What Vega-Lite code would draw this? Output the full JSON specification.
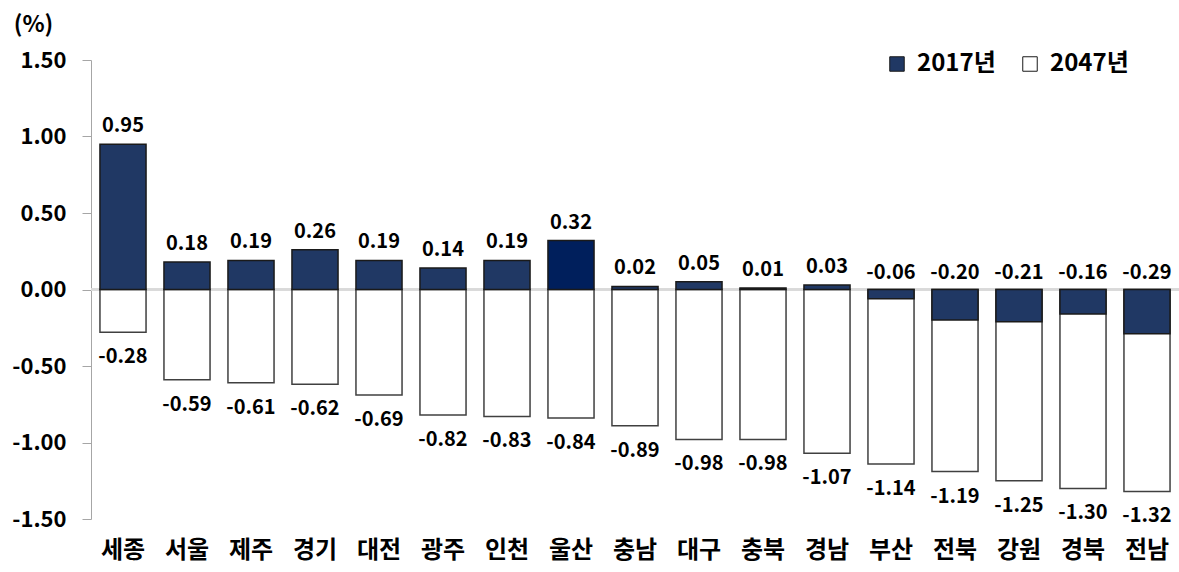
{
  "$schema": "https://vega.github.io/schema/vega-lite/v6.json",
  "width": 1088,
  "height": 459,
  "autosize": {"type": "none"},
  "padding": {"left": 91, "top": 60, "right": 0, "bottom": 53},
  "background": "white",
  "config": {
    "view": {"stroke": null},
    "font": "Noto Sans CJK KR"
  },
  "data": {
    "values": [
      {"region": "세종", "v2017": 0.95, "v2047": -0.28},
      {"region": "서울", "v2017": 0.18, "v2047": -0.59},
      {"region": "제주", "v2017": 0.19, "v2047": -0.61},
      {"region": "경기", "v2017": 0.26, "v2047": -0.62},
      {"region": "대전", "v2017": 0.19, "v2047": -0.69},
      {"region": "광주", "v2017": 0.14, "v2047": -0.82},
      {"region": "인천", "v2017": 0.19, "v2047": -0.83},
      {"region": "울산", "v2017": 0.32, "v2047": -0.84},
      {"region": "충남", "v2017": 0.02, "v2047": -0.89},
      {"region": "대구", "v2017": 0.05, "v2047": -0.98},
      {"region": "충북", "v2017": 0.01, "v2047": -0.98},
      {"region": "경남", "v2017": 0.03, "v2047": -1.07},
      {"region": "부산", "v2017": -0.06, "v2047": -1.14},
      {"region": "전북", "v2017": -0.20, "v2047": -1.19},
      {"region": "강원", "v2017": -0.21, "v2047": -1.25},
      {"region": "경북", "v2017": -0.16, "v2047": -1.30},
      {"region": "전남", "v2017": -0.29, "v2047": -1.32}
    ]
  },
  "encoding": {
    "x": {
      "field": "region",
      "type": "nominal",
      "sort": null,
      "scale": {"paddingInner": 0.28, "paddingOuter": 0.14},
      "axis": {
        "title": null,
        "orient": "bottom",
        "domain": false,
        "ticks": false,
        "labelAngle": 0,
        "labelFontSize": 24,
        "labelFontWeight": "bold",
        "labelColor": "#000000",
        "labelPadding": 19
      }
    }
  },
  "layer": [
    {
      "mark": {"type": "rule", "color": "#D9D9D9", "strokeWidth": 2},
      "encoding": {"y": {"datum": 0, "type": "quantitative"}, "x": null}
    },
    {
      "mark": {"type": "bar", "stroke": "#404040", "strokeWidth": 1.5},
      "encoding": {
        "y": {
          "field": "v2047",
          "type": "quantitative",
          "scale": {"domain": [-1.5, 1.5], "nice": false, "zero": true},
          "axis": {
            "values": [-1.5, -1, -0.5, 0, 0.5, 1, 1.5],
            "labelExpr": "replace(format(datum.value, '.2f'), '\u2212', '-')",
            "grid": false,
            "domainColor": "#A6A6A6",
            "tickColor": "#A6A6A6",
            "tickSize": 9,
            "labelPadding": 16,
            "labelFontSize": 22,
            "labelFontWeight": "bold",
            "labelColor": "#000000",
            "title": "(%)",
            "titleAngle": 0,
            "titleX": -58,
            "titleY": -36,
            "titleAlign": "center",
            "titleBaseline": "middle",
            "titleFontSize": 23,
            "titleFontWeight": "bold",
            "titleColor": "#000000"
          }
        },
        "color": {
          "datum": "2047년",
          "type": "nominal",
          "scale": {"domain": ["2017년", "2047년"], "range": ["#203864", "#FFFFFF"]},
          "legend": {
            "title": null,
            "orient": "none",
            "direction": "horizontal",
            "legendX": 794,
            "legendY": -8,
            "symbolType": "square",
            "symbolSize": 210,
            "symbolStrokeColor": "#000000",
            "symbolStrokeWidth": 1,
            "symbolOpacity": 1,
            "labelFontSize": 24,
            "labelFontWeight": "bold",
            "labelColor": "#000000",
            "labelOffset": 8,
            "columnPadding": 22
          }
        }
      }
    },
    {
      "mark": {"type": "bar", "stroke": "#1A1A1A", "strokeWidth": 1.5},
      "encoding": {
        "y": {"field": "v2017", "type": "quantitative"},
        "color": {
          "condition": {"test": "datum.region === '울산'", "value": "#001F5C"},
          "datum": "2017년",
          "type": "nominal"
        }
      }
    },
    {
      "transform": [{"filter": "datum.v2017 >= 0"}],
      "mark": {"type": "text", "baseline": "alphabetic", "dy": -12, "fontSize": 20, "fontWeight": "bold", "color": "#000000",
        "text": {"expr": "replace(format(datum.v2017, '.2f'), '\u2212', '-')"}},
      "encoding": {
        "y": {"field": "v2017", "type": "quantitative"}
      }
    },
    {
      "transform": [{"filter": "datum.v2017 < 0"}],
      "mark": {"type": "text", "baseline": "alphabetic", "dy": -11, "fontSize": 20, "fontWeight": "bold", "color": "#000000",
        "text": {"expr": "replace(format(datum.v2017, '.2f'), '\u2212', '-')"}},
      "encoding": {
        "y": {"datum": 0, "type": "quantitative"}
      }
    },
    {
      "mark": {"type": "text", "baseline": "alphabetic", "dy": 31, "fontSize": 20, "fontWeight": "bold", "color": "#000000",
        "text": {"expr": "replace(format(datum.v2047, '.2f'), '\u2212', '-')"}},
      "encoding": {
        "y": {"field": "v2047", "type": "quantitative"}
      }
    }
  ]
}
